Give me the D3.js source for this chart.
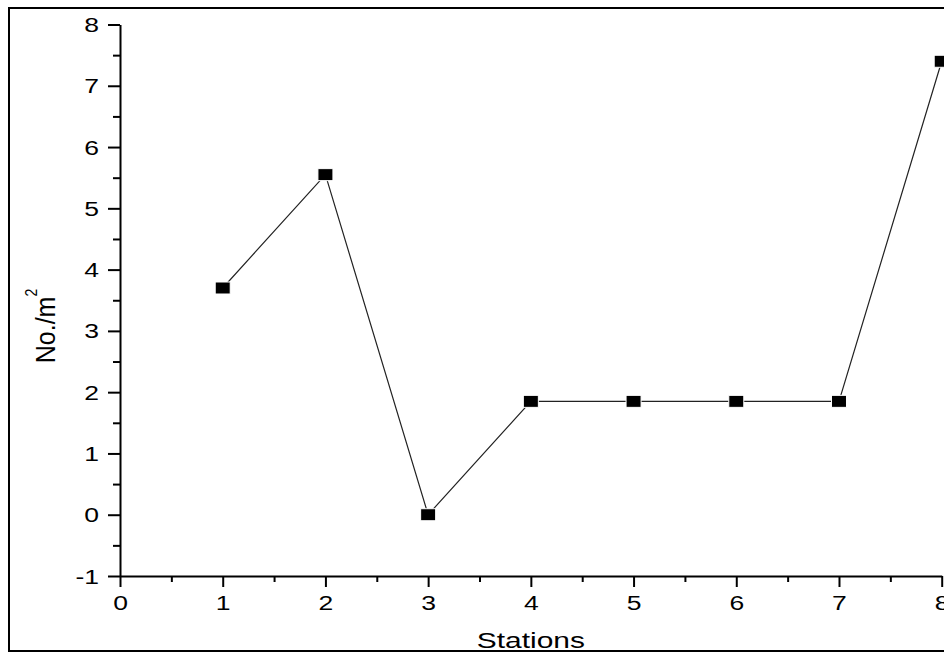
<!DOCTYPE html>
<html>
<head>
<meta charset="utf-8">
<script src="https://cdn.jsdelivr.net/npm/d3@7/dist/d3.min.js"></script>
<style>
  body { margin: 0; background: #fff; }
  text { font-family: "Liberation Sans", Arial, sans-serif; fill: #000; }
</style>
</head>
<body>
<div id="chart"></div>
<script>
var stations = [1, 2, 3, 4, 5, 6, 7, 8];
var density = [3.7, 5.55, 0, 1.85, 1.85, 1.85, 1.85, 7.4];
var xTicks = [0, 1, 2, 3, 4, 5, 6, 7, 8];
var yTicks = [-1, 0, 1, 2, 3, 4, 5, 6, 7, 8];

var width = 944, height = 655;
var plotLeft = 120, plotRight = 941.7;
var plotTop = 24.5, plotBottom = 576;
var stretch = 1.36; // original picture is widened horizontally

var svg = d3.select("#chart").append("svg")
  .attr("width", width)
  .attr("height", height);

// outer frame
svg.append("rect")
  .attr("x", 9).attr("y", 8)
  .attr("width", 960).attr("height", 643)
  .attr("fill", "none")
  .attr("stroke", "#000")
  .attr("stroke-width", 2);

var x = d3.scaleLinear().domain([0, 8]).range([plotLeft, plotRight]);
var y = d3.scaleLinear().domain([-1, 8]).range([plotBottom, plotTop]);

// minor ticks (halves)
var xMinor = xTicks.slice(0, -1).map(function(d) { return d + 0.5; });
var yMinor = yTicks.slice(0, -1).map(function(d) { return d + 0.5; });

var fmt = function(d) { return String(d); }; // plain hyphen for -1

var xAxis = svg.append("g")
  .attr("transform", "translate(0," + plotBottom + ")")
  .call(d3.axisBottom(x).tickValues(xTicks).tickSize(11).tickPadding(8).tickFormat(fmt).tickSizeOuter(0));
svg.append("g")
  .attr("transform", "translate(0," + plotBottom + ")")
  .call(d3.axisBottom(x).tickValues(xMinor).tickSize(6).tickFormat("").tickSizeOuter(0))
  .select(".domain").remove();

var yAxis = svg.append("g")
  .attr("transform", "translate(" + plotLeft + ",0)")
  .call(d3.axisLeft(y).tickValues(yTicks).tickSize(12).tickPadding(8).tickFormat(fmt).tickSizeOuter(0));
svg.append("g")
  .attr("transform", "translate(" + plotLeft + ",0)")
  .call(d3.axisLeft(y).tickValues(yMinor).tickSize(7).tickFormat("").tickSizeOuter(0))
  .select(".domain").remove();

svg.selectAll(".domain, .tick line")
  .attr("stroke", "#000")
  .attr("stroke-width", 2);
svg.selectAll(".tick text")
  .style("font-size", "19.5px")
  .attr("fill", "#000")
  .attr("transform", "scale(" + stretch + ",1)");
yAxis.selectAll(".tick text")
  .attr("x", -21 / stretch)
  .attr("dy", "0.36em");
xAxis.selectAll(".tick text").attr("dy", "0.75em");

// line
var line = d3.line()
  .x(function(d, i) { return x(stations[i]); })
  .y(function(d) { return y(d); });

svg.append("path")
  .datum(density)
  .attr("d", line)
  .attr("fill", "none")
  .attr("stroke", "#222")
  .attr("stroke-width", 1.2);

// markers
svg.selectAll(".marker")
  .data(density)
  .enter()
  .append("rect")
  .attr("class", "marker")
  .attr("x", function(d, i) { return x(stations[i]) - 7.5; })
  .attr("y", function(d) { return y(d) - 6; })
  .attr("width", 15)
  .attr("height", 12)
  .attr("fill", "#000")
  .attr("stroke", "#fff")
  .attr("stroke-width", 1);

// axis titles
svg.append("text")
  .attr("transform", "translate(" + (plotLeft + plotRight) / 2 + ",648) scale(" + stretch + ",1)")
  .attr("text-anchor", "middle")
  .style("font-size", "22px")
  .text("Stations");

var yTitle = svg.append("text")
  .attr("transform", "translate(55,326) scale(1.12,1) rotate(-90)")
  .attr("text-anchor", "middle")
  .style("font-size", "25px");
yTitle.append("tspan").text("No./m");
yTitle.append("tspan")
  .attr("dy", -16)
  .style("font-size", "14px")
  .text("2");
</script>
</body>
</html>
